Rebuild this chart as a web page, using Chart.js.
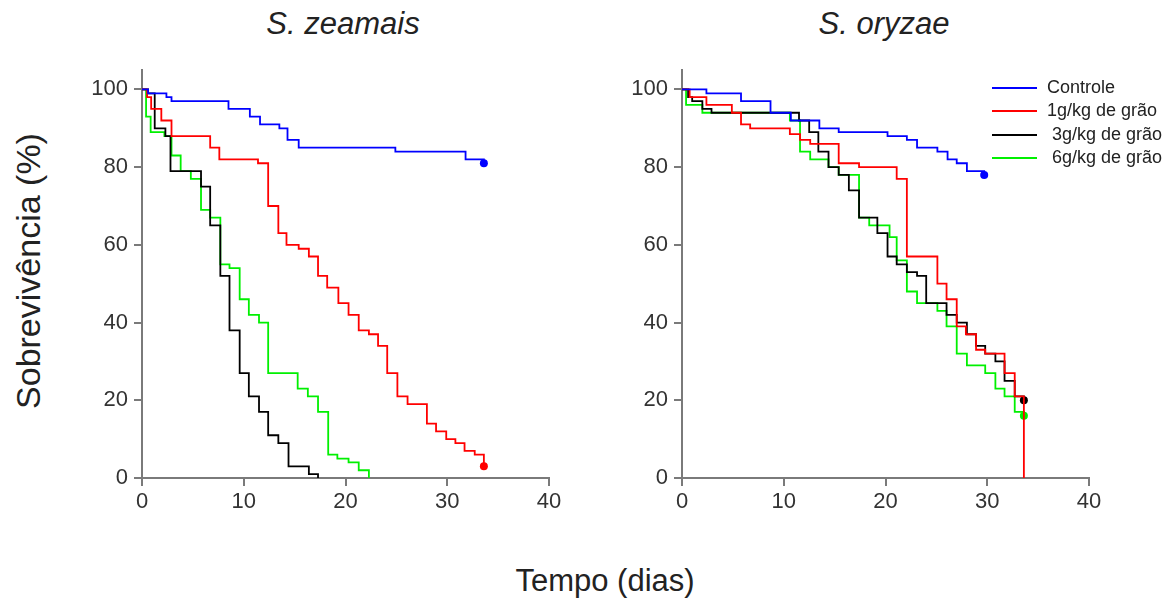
<!DOCTYPE html>
<html>
<head>
<meta charset="utf-8">
<script src="https://cdn.jsdelivr.net/npm/chart.js@4.4.1/dist/chart.umd.min.js"></script>
<style>
  body { margin: 0; width: 1173px; height: 601px; background: #fff; position: relative; overflow: hidden;
         font-family: "Liberation Sans", Arial, sans-serif; color: #222; }
  .panel { position: absolute; top: 50px; width: 510px; height: 468px; }
  .title { position: absolute; top: 6px; width: 400px; text-align: center; font-size: 31px; font-style: italic; }
  .ylab { position: absolute; left: 28px; top: 271px; font-size: 34px; white-space: nowrap;
          transform: translate(-50%, -50%) rotate(-90deg); }
  .xlab { position: absolute; left: 405px; top: 563px; width: 400px; text-align: center; font-size: 31px; }
  .leg { position: absolute; left: 992px; height: 20px; font-size: 18px; white-space: pre; }
  .leg i { position: absolute; left: 0; top: 9px; width: 45px; height: 0; border-top: 2px solid; }
  .leg span { position: absolute; left: 55px; top: -1px; line-height: 20px; }
</style>
</head>
<body>
<div class="title" style="left:143px">S. zeamais</div>
<div class="title" style="left:684px">S. oryzae</div>
<div class="ylab">Sobrevivência (%)</div>
<div class="xlab">Tempo (dias)</div>
<div class="panel" style="left:60px"><canvas id="zeamais" width="510" height="468"></canvas></div>
<div class="panel" style="left:600px"><canvas id="oryzae" width="510" height="468"></canvas></div>
<div id="legend"></div>
<script>
// tick labels
const xTicks = [0, 10, 20, 30, 40];
const yTicks = [0, 20, 40, 60, 80, 100];

const seriesNames = ['Controle', '1g/kg de grão', ' 3g/kg de grão', ' 6g/kg de grão'];
const seriesColors = ['#0000ff', '#ff0000', '#000000', '#00f000'];

// S. zeamais: [dia, sobrevivência %] (valor a partir do dia)
const zeaControle = [[0,100],[0.6,99],[2.4,98],[2.9,97],[8.5,95],[10.6,93],[11.6,91],[13.5,90],[14.3,87],[15.4,85],[24.9,84],[31.8,82],[33.6,81]];
const zea1g = [[0,100],[0.5,98],[0.9,95],[1.9,92],[2.9,88],[6.7,85],[7.6,82],[11.4,81],[12.4,70],[13.4,63],[14.2,60],[15.4,59],[16.4,57],[17.3,52],[18.2,49],[19.3,45],[20.3,42],[21.3,38],[22.3,37],[23.2,34],[24.1,27],[25.1,21],[26.1,19],[28,14],[28.9,12],[29.9,10],[30.8,9],[31.7,7],[32.7,6],[33.6,3]];
const zea3g = [[0,100],[0.6,99],[1.25,90],[2.3,88],[2.8,79],[5.8,75],[6.7,65],[7.7,52],[8.6,38],[9.6,27],[10.5,21],[11.5,17],[12.4,11],[13.4,9],[14.4,3],[16.4,1],[17.3,0]];
const zea6g = [[0,100],[0.4,93],[0.85,89],[2.2,88],[2.9,83],[3.8,79],[4.8,77],[5.8,69],[6.7,67],[7.7,55],[8.6,54],[9.6,46],[10.5,42],[11.5,40],[12.4,27],[15.3,23],[16.3,21],[17.3,17],[18.3,6],[19.2,5],[20.3,4],[21.3,2],[22.3,0]];

// S. oryzae
const oryControle = [[0,100],[2.4,99],[5.8,97],[8.7,94],[10.7,92],[13.5,90],[15.4,89],[20.2,88],[22.1,87],[23.1,85],[25.1,84],[26.1,82],[27,81],[28,79],[29.7,78]];
const ory1g = [[0,100],[0.75,98],[2.4,96],[4.9,94],[5.8,91],[6.7,90],[10.6,88.5],[11.6,87],[12.6,86],[15.4,81],[17.4,80],[21.1,77],[22.1,57],[25.1,50],[26,46],[27,39],[27.9,37],[28.9,33],[29.8,32],[31.7,27],[32.7,21],[33.6,0]];
const ory3g = [[0,100],[0.6,98],[1.0,97],[2.0,95],[2.9,94],[11.5,92],[12.5,89],[13.4,84],[14.4,80],[15.4,78],[16.4,74],[17.4,67],[19.2,63],[20.2,57],[21.1,55],[22.1,53],[23.1,52],[24,45],[26,42],[27,40],[28,37],[28.9,34],[29.8,32],[30.8,30],[31.7,25],[32.7,21],[33.6,20]];
const ory6g = [[0,100],[0.4,96],[2.0,94],[10.6,92],[11.6,84],[12.6,82],[14.4,80],[15.4,78],[17.4,67],[18.4,65],[20.4,62],[21.1,56],[22.1,48],[23.1,45],[25.1,43],[26,39],[27,32],[28,29],[29.8,27],[30.8,23],[31.7,21],[32.7,17],[33.6,16]];

// which series end with a dot
const zeaDots = [true, true, false, false];
const oryDots = [true, false, true, true];

const axisGrey = '#7a7a7a';
const tickFont = { family: '"Liberation Sans", Arial, sans-serif', size: 22 };

function makeChart(id, series, dots) {
    const datasets = series.map(function (s, i) {
        return {
            label: seriesNames[i],
            data: s.map(p => ({ x: p[0], y: p[1] })),
            borderColor: seriesColors[i],
            backgroundColor: seriesColors[i],
            borderWidth: 1.8,
            stepped: 'before',
            fill: false,
            clip: false,
            pointRadius: s.map((p, k) => (dots[i] && k === s.length - 1) ? 4 : 0),
            pointBorderWidth: 0
        };
    });

    new Chart(document.getElementById(id), {
        type: 'line',
        data: { datasets: datasets },
        options: {
            responsive: false,
            animation: false,
            layout: { padding: { top: 20, right: 21, bottom: 0, left: 0 } },
            plugins: { legend: { display: false }, tooltip: { enabled: false } },
            scales: {
                x: {
                    type: 'linear',
                    min: 0, max: 40,
                    afterBuildTicks: s => { s.ticks = xTicks.map(v => ({ value: v })); },
                    afterFit: s => { s.height = 40; },
                    border: { display: true, color: axisGrey, width: 2 },
                    grid: { drawOnChartArea: false, drawTicks: true, tickLength: 8, color: axisGrey, lineWidth: 2 },
                    ticks: { color: '#333', font: tickFont, padding: 3, maxRotation: 0 }
                },
                y: {
                    type: 'linear',
                    min: 0, max: 105,
                    afterBuildTicks: s => { s.ticks = yTicks.map(v => ({ value: v })); },
                    afterFit: s => { s.width = 82; },
                    border: { display: true, color: axisGrey, width: 2 },
                    grid: { drawOnChartArea: false, drawTicks: true, tickLength: 8, color: axisGrey, lineWidth: 2 },
                    ticks: { color: '#333', font: tickFont, padding: 6 }
                }
            }
        }
    });
}

makeChart('zeamais', [zeaControle, zea1g, zea3g, zea6g], zeaDots);
makeChart('oryzae', [oryControle, ory1g, ory3g, ory6g], oryDots);

// legend (right panel)
const legend = document.getElementById('legend');
seriesNames.forEach(function (name, i) {
    const row = document.createElement('div');
    row.className = 'leg';
    row.style.top = (78 + i * 23.4) + 'px';
    row.innerHTML = '<i style="border-color:' + seriesColors[i] + '"></i><span></span>';
    row.querySelector('span').textContent = name;
    legend.appendChild(row);
});
</script>
</body>
</html>
